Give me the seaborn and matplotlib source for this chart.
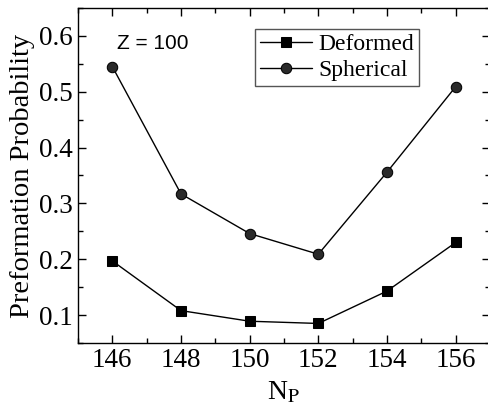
import matplotlib
matplotlib.use("Agg")
import matplotlib.pyplot as plt
import seaborn as sns
import pandas as pd
from matplotlib.ticker import MultipleLocator

np_vals = [146, 148, 150, 152, 154, 156]
deformed = [0.197, 0.108, 0.089, 0.085, 0.143, 0.230]
spherical = [0.545, 0.317, 0.246, 0.209, 0.356, 0.509]

df = pd.DataFrame({
    "Np": np_vals * 2,
    "P": deformed + spherical,
    "Model": ["Deformed"] * len(np_vals) + ["Spherical"] * len(np_vals),
})

sns.set_style("ticks")
plt.rcParams['font.family'] = ['Liberation Serif', 'DejaVu Serif']
plt.rcParams['mathtext.fontset'] = 'stix'
plt.rcParams['text.color'] = 'black'
plt.rcParams['axes.labelcolor'] = 'black'
plt.rcParams['xtick.color'] = 'black'
plt.rcParams['ytick.color'] = 'black'

fig = plt.figure(figsize=(4.88, 4.15), dpi=100)
ax = fig.add_axes([78/488, 1 - 343/415, (490 - 78)/488, (343 - 8)/415])

sns.lineplot(data=df, x="Np", y="P", hue="Model", style="Model",
             markers={"Deformed": "s", "Spherical": "o"}, dashes=False,
             palette={"Deformed": "black", "Spherical": "black"},
             markersize=7, linewidth=1.0, ax=ax,
             markeredgecolor="black")
for line in ax.lines:
    if line.get_marker() == "o":
        line.set_markerfacecolor("#2a2a2a")
        line.set_markersize(7.5)

ax.set_xlim(145, 157)
ax.set_ylim(0.05, 0.65)
ax.xaxis.set_major_locator(MultipleLocator(2))
ax.xaxis.set_minor_locator(MultipleLocator(1))
ax.yaxis.set_major_locator(MultipleLocator(0.1))
ax.yaxis.set_minor_locator(MultipleLocator(0.05))
ax.tick_params(which="both", direction="in", top=True, right=True, labelsize=19.5,
               colors="black", labelcolor="black")
ax.tick_params(which="major", length=6, width=1)
ax.tick_params(which="minor", length=3.5, width=1)
for s in ax.spines.values():
    s.set_linewidth(1.0)
    s.set_color("black")
    s.set_visible(True)

ax.set_xlabel(r"N$_{\mathrm{P}}$", fontsize=20, labelpad=5, color="black")
ax.set_ylabel("Preformation Probability", fontsize=20.5, labelpad=3, color="black")

ax.text(146.15, 0.587, "Z = 100", fontsize=15, family=["Liberation Sans", "DejaVu Sans"],
        ha="left", va="center", color="black")

leg = ax.legend(loc="upper left", bbox_to_anchor=((255 - 78) / 412, 1 - (29 - 8) / 335),
                fontsize=17, frameon=True, fancybox=False, edgecolor="#555555", framealpha=1,
                handlelength=2.2, borderpad=0.2, labelspacing=0.2, handletextpad=0.3,
                borderaxespad=0)
leg.get_frame().set_linewidth(1.0)
for t in leg.get_texts():
    t.set_color("black")

fig.savefig("out.png", dpi=100)
